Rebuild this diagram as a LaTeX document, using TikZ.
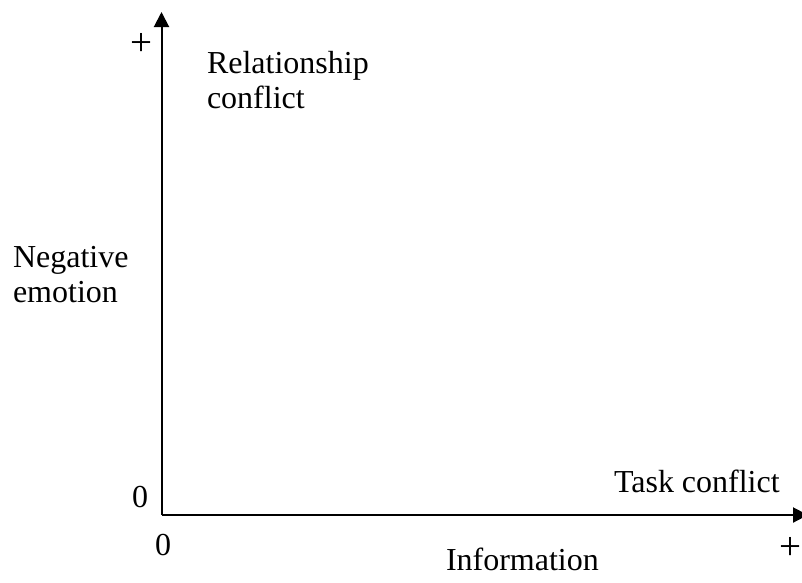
\documentclass[tikz,border=0pt]{standalone}
\usepackage{fontspec}
\setmainfont{Liberation Serif}
\usetikzlibrary{arrows.meta}
\begin{document}
\begin{tikzpicture}[x=1pt,y=-1pt,
  lbl/.style={inner sep=0pt,outer sep=0pt,anchor=base west,font=\fontsize{32}{35}\selectfont},
  mlbl/.style={lbl,align=left},
  plus/.style={inner sep=0pt,outer sep=0pt,anchor=center,font=\fontsize{39}{42}\selectfont},
  axis/.style={line width=2pt,-{Triangle[length=15pt,width=15pt]}}]
\useasboundingbox (0,0) rectangle (802,582);
\coordinate (O) at (161.5,515);
\coordinate (ytop) at (161.5,12);
\coordinate (xend) at (808,515);
\draw[axis] (O) -- (ytop);
\draw[axis] (O) -- (xend);
\node[plus] (yplus) at (141.5,44) {+};
\node[lbl] (yzero) at (132,507) {0};
\node[lbl] (xzero) at (155,555) {0};
\node[plus] (xplus) at (790,548) {+};
\node[mlbl] (rel) at (207,108) {Relationship\\conflict};
\node[mlbl] (neg) at (13,302) {Negative\\emotion};
\node[lbl] (task) at (614,492) {Task conflict};
\node[lbl] (info) at (446,570) {Information};
\end{tikzpicture}
\end{document}
